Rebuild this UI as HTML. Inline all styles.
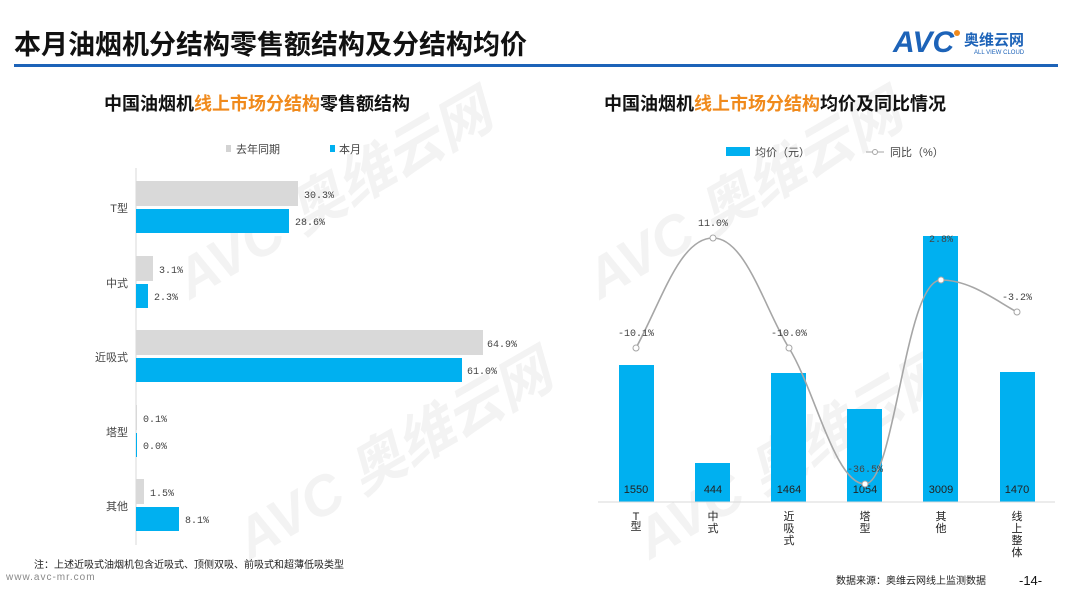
<!DOCTYPE html>
<html><head><meta charset="utf-8"><style>
body{margin:0;width:1080px;height:608px;background:#fff;overflow:hidden;font-family:"Liberation Sans","Noto Sans CJK SC",sans-serif}
</style></head><body>
<svg width="1080" height="608" xmlns="http://www.w3.org/2000/svg" font-family="Liberation Sans, Noto Sans CJK SC, sans-serif">
<g fill="#f3f3f3" font-weight="bold" font-style="italic">
<text x="190" y="300" font-size="56" transform="rotate(-30 190 300)">AVC 奥维云网</text>
<text x="600" y="300" font-size="56" transform="rotate(-30 600 300)">AVC 奥维云网</text>
<text x="250" y="560" font-size="56" transform="rotate(-30 250 560)">AVC 奥维云网</text>
<text x="650" y="560" font-size="56" transform="rotate(-30 650 560)">AVC 奥维云网</text>
</g>
<text x="14" y="54" font-size="27" font-weight="bold" fill="#111">本月油烟机分结构零售额结构及分结构均价</text>
<rect x="14" y="64" width="1044" height="3" fill="#1d63b8"/>
<text x="893" y="52" font-size="30" font-weight="bold" font-style="italic" fill="#1d63b8">AVC</text>
<circle cx="957" cy="33" r="3" fill="#f08a1c"/>
<text x="964" y="45" font-size="15" font-weight="bold" fill="#1d63b8">奥维云网</text>
<text x="974" y="54" font-size="6" fill="#1d63b8">ALL VIEW CLOUD</text>

<text x="104" y="110" font-size="18" font-weight="bold" fill="#111">中国油烟机<tspan fill="#f08a1c">线上市场分结构</tspan>零售额结构</text>
<text x="604" y="110" font-size="18" font-weight="bold" fill="#111">中国油烟机<tspan fill="#f08a1c">线上市场分结构</tspan>均价及同比情况</text>

<rect x="226" y="145" width="5" height="7" fill="#d3d3d3"/><text x="236" y="153" font-size="11" fill="#444">去年同期</text>
<rect x="330" y="145" width="5" height="7" fill="#00b0f0"/><text x="339" y="153" font-size="11" fill="#444">本月</text>
<line x1="136" y1="168" x2="136" y2="545" stroke="#d9d9d9"/>
<g font-size="10" fill="#444" font-family="Liberation Mono, Noto Sans CJK SC, monospace">
<rect x="136" y="181" width="162" height="25" fill="#d9d9d9"/><rect x="136" y="209" width="153" height="24" fill="#00b0f0"/>
<text x="304" y="198">30.3%</text><text x="295" y="225">28.6%</text>
<rect x="136" y="256" width="17" height="25" fill="#d9d9d9"/><rect x="136" y="284" width="12" height="24" fill="#00b0f0"/>
<text x="159" y="273">3.1%</text><text x="154" y="300">2.3%</text>
<rect x="136" y="330" width="347" height="25" fill="#d9d9d9"/><rect x="136" y="358" width="326" height="24" fill="#00b0f0"/>
<text x="487" y="347">64.9%</text><text x="467" y="374">61.0%</text>
<rect x="136" y="405" width="1" height="25" fill="#d9d9d9"/><rect x="136" y="433" width="1" height="24" fill="#00b0f0"/>
<text x="143" y="422">0.1%</text><text x="143" y="449">0.0%</text>
<rect x="136" y="479" width="8" height="25" fill="#d9d9d9"/><rect x="136" y="507" width="43" height="24" fill="#00b0f0"/>
<text x="150" y="496">1.5%</text><text x="185" y="523">8.1%</text>
</g>
<g font-size="11" fill="#444" text-anchor="end">
<text x="128" y="212">T型</text><text x="128" y="287">中式</text><text x="128" y="361">近吸式</text><text x="128" y="436">塔型</text><text x="128" y="510">其他</text>
</g>
<text x="34" y="568" font-size="10" fill="#222">注：上述近吸式油烟机包含近吸式、顶侧双吸、前吸式和超薄低吸类型</text>
<text x="6" y="580" font-size="10" fill="#888" letter-spacing="1">www.avc-mr.com</text>

<rect x="726" y="147" width="24" height="9" fill="#00b0f0"/><text x="755" y="156" font-size="11" fill="#444">均价（元）</text>
<line x1="866" y1="152" x2="884" y2="152" stroke="#a6a6a6"/><circle cx="875" cy="152" r="2.5" fill="#fff" stroke="#a6a6a6"/>
<text x="890" y="156" font-size="11" fill="#444">同比（%）</text>

<g fill="#00b0f0">
<rect x="619" y="365" width="35" height="137"/><rect x="695" y="463" width="35" height="39"/>
<rect x="771" y="373" width="35" height="129"/><rect x="847" y="409" width="35" height="93"/>
<rect x="923" y="236" width="35" height="266"/><rect x="1000" y="372" width="35" height="130"/>
</g>
<line x1="598" y1="502" x2="1055" y2="502" stroke="#d9d9d9"/>
<g font-size="11" fill="#222" text-anchor="middle">
<text x="636" y="493">1550</text><text x="713" y="493">444</text><text x="789" y="493">1464</text>
<text x="865" y="493">1054</text><text x="941" y="493">3009</text><text x="1017" y="493">1470</text>
</g>
<path d="M636,348 C662,300 680,238 713,238 C746,238 765,310 789,348 C815,390 835,484 865,484 C895,484 905,280 941,280 C970,280 995,300 1017,312" fill="none" stroke="#a6a6a6" stroke-width="1.6"/>
<g fill="#fff" stroke="#a6a6a6">
<circle cx="636" cy="348" r="3"/><circle cx="713" cy="238" r="3"/><circle cx="789" cy="348" r="3"/>
<circle cx="865" cy="484" r="3"/><circle cx="941" cy="280" r="3"/><circle cx="1017" cy="312" r="3"/>
</g>
<g font-size="10" fill="#444" text-anchor="middle" font-family="Liberation Mono, monospace">
<text x="636" y="336">-10.1%</text><text x="713" y="226">11.0%</text><text x="789" y="336">-10.0%</text>
<text x="865" y="472">-36.5%</text><text x="941" y="242">2.8%</text><text x="1017" y="300">-3.2%</text>
</g>
<g font-size="11" fill="#222" text-anchor="middle">
<text x="636" y="520">T</text><text x="636" y="530">型</text>
<text x="713" y="520">中</text><text x="713" y="532">式</text>
<text x="789" y="520">近</text><text x="789" y="532">吸</text><text x="789" y="544">式</text>
<text x="865" y="520">塔</text><text x="865" y="532">型</text>
<text x="941" y="520">其</text><text x="941" y="532">他</text>
<text x="1017" y="520">线</text><text x="1017" y="532">上</text><text x="1017" y="544">整</text><text x="1017" y="556">体</text>
</g>
<text x="836" y="584" font-size="10" fill="#222">数据来源：奥维云网线上监测数据</text>
<text x="1019" y="585" font-size="13" fill="#111">-14-</text>
</svg>
</body></html>
